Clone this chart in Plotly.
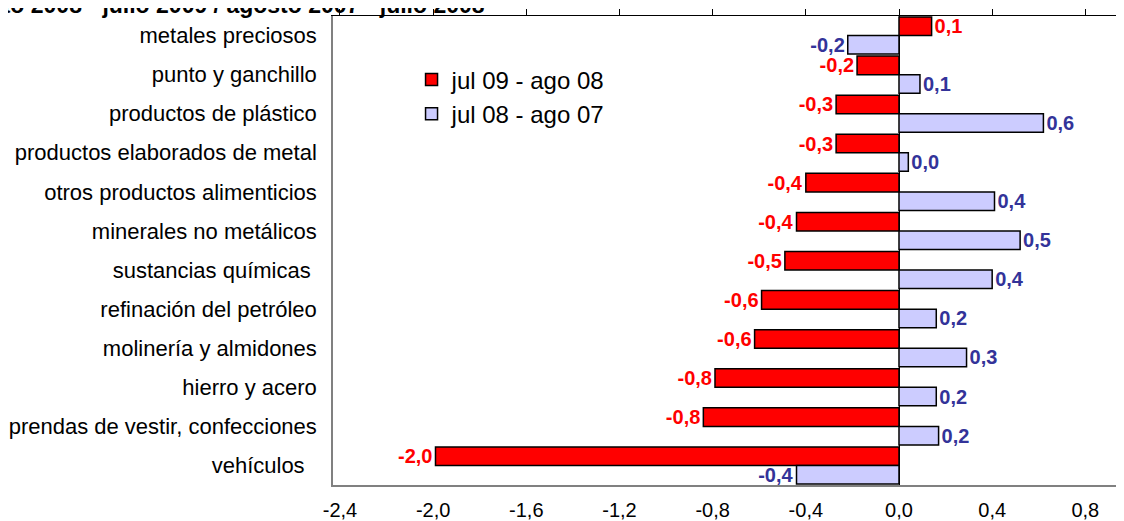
import plotly.graph_objects as go

categories = [
    "metales preciosos",
    "punto y ganchillo",
    "productos de plástico",
    "productos elaborados de metal",
    "otros productos alimenticios",
    "minerales no metálicos",
    "sustancias químicas",
    "refinación del petróleo",
    "molinería y almidones",
    "hierro y acero",
    "prendas de vestir, confecciones",
    "vehículos",
]
category_labels = [
    "metales preciosos",
    "punto y ganchillo",
    "productos de plástico",
    "productos elaborados de metal",
    "otros productos alimenticios",
    "minerales no metálicos",
    "sustancias químicas\u00a0",
    "refinación del petróleo",
    "molinería y almidones",
    "hierro y acero",
    "prendas de vestir, confecciones",
    "vehículos\u00a0\u00a0",
]
series1_name = "jul 09 - ago 08"
series1 = [0.14, -0.18, -0.27, -0.27, -0.40, -0.44, -0.49, -0.59, -0.62, -0.79, -0.84, -1.99]
series2_name = "jul 08 - ago 07"
series2 = [-0.22, 0.09, 0.62, 0.04, 0.41, 0.52, 0.40, 0.16, 0.29, 0.16, 0.17, -0.44]
x_tickvals = [-2.4, -2.0, -1.6, -1.2, -0.8, -0.4, 0.0, 0.4, 0.8]
x_ticktext = ["-2,4", "-2,0", "-1,6", "-1,2", "-0,8", "-0,4", "0,0", "0,4", "0,8"]
title_text = "agosto 2008 - julio 2009 / agosto 2007 - julio 2008"


def fmt(v):
    return f"{v:.1f}".replace(".", ",")


FONT = "Arial, Liberation Sans, sans-serif"
XR = [-2.43, 0.966]

fig = go.Figure()
fig.add_trace(go.Bar(
    y=categories, x=series1, orientation="h", name=series1_name,
    marker=dict(color="#FF0000", line=dict(color="#000000", width=1.5)),
    text=[fmt(v) for v in series1], textposition="outside",
    textfont=dict(family=FONT, size=20, color="#FF0000", weight="bold"),
    constraintext="none", cliponaxis=False,
))
fig.add_trace(go.Bar(
    y=categories, x=series2, orientation="h", name=series2_name,
    marker=dict(color="#CCCCFF", line=dict(color="#000000", width=1.5)),
    text=[fmt(v) for v in series2], textposition="outside",
    textfont=dict(family=FONT, size=20, color="#333399", weight="bold"),
    constraintext="none", cliponaxis=False,
))
# invisible trace to activate top axis
fig.add_trace(go.Scatter(x=[None], y=[None], xaxis="x2", showlegend=False, hoverinfo="skip"))

fig.update_layout(
    width=1116, height=513,
    margin=dict(l=325, r=0, t=8, b=36),
    paper_bgcolor="white", plot_bgcolor="white",
    barmode="group", bargap=0.05, bargroupgap=0,
    font=dict(family=FONT, color="#000000"),
    showlegend=True,
    legend=dict(
        x=0.0993, y=0.9115, xanchor="left", yanchor="top",
        font=dict(family=FONT, size=24, color="#000000"),
        bgcolor="rgba(0,0,0,0)", traceorder="normal",
    ),
    xaxis=dict(
        range=XR, tickvals=x_tickvals, ticktext=x_ticktext, automargin=False,
        ticks="", showgrid=False, zeroline=True, zerolinecolor="#000000", zerolinewidth=1,
        showline=True, linecolor="#808080", linewidth=1.5,
        tickfont=dict(family=FONT, size=20, color="#000000"),
        ticklabelstandoff=6,
    ),
    xaxis2=dict(
        range=XR, overlaying="x", side="top", tickvals=x_tickvals, automargin=False,
        showticklabels=False, ticks="outside", ticklen=6, tickcolor="#000000", tickwidth=1,
        showline=True, linecolor="#000000", linewidth=1.2, showgrid=False, zeroline=False,
    ),
    yaxis=dict(
        autorange="reversed", tickvals=categories, ticktext=category_labels, automargin=False,
        ticks="", showgrid=False, showline=True, linecolor="#808080", linewidth=1.5,
        tickfont=dict(family=FONT, size=22, color="#000000"),
        ticklabelstandoff=10,
    ),
    annotations=[dict(
        text="<b>" + title_text + "</b>", xref="paper", yref="paper",
        x=(479 - 325) / 791, y=(477 + 3) / 469, xanchor="right", yanchor="middle",
        showarrow=False, font=dict(family=FONT, size=23, color="#000000"),
    )],
)

fig.write_html("out.html")
